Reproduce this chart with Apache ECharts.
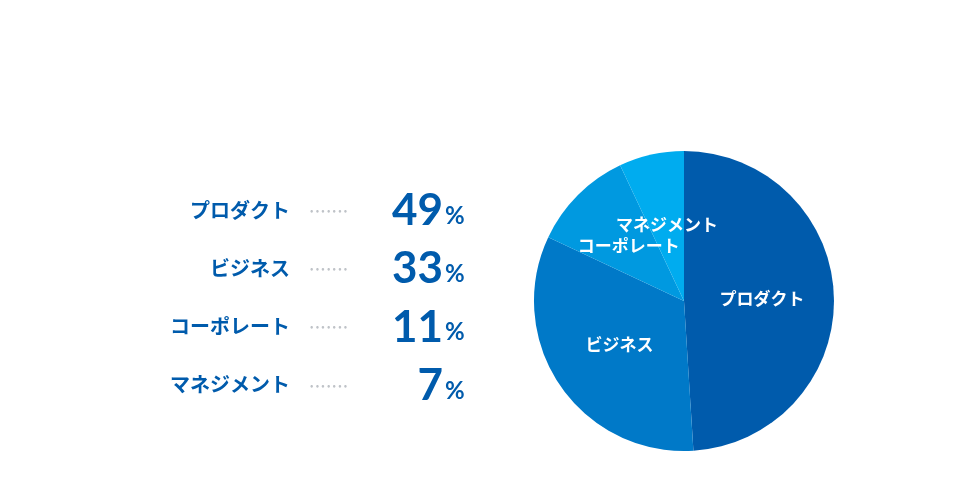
<!DOCTYPE html>
<html><head><meta charset="utf-8">
<script src="https://cdn.jsdelivr.net/npm/echarts@6/dist/echarts.min.js"></script>
<style>html,body{margin:0;background:#fff}#c{width:980px;height:500px}</style>
</head><body><div id="c"></div>
<script>
const categories = ['プロダクト','ビジネス','コーポレート','マネジメント'];
const values = [49, 33, 11, 7];
const colors = ['#005BAC','#0079C8','#0099E0','#00ACEF'];
const font = '"Noto Sans CJK JP", "Noto Sans", sans-serif';
const chart = echarts.init(document.getElementById('c'));
const graphic = [];
categories.forEach((c, i) => {
  const y = 210 + i * 58.3;
  graphic.push({type:'text', x:290, y:y, style:{text:c, fill:'#005BAC', font:'bold 20px ' + font, textAlign:'right', textVerticalAlign:'middle'}});
  graphic.push({type:'text', x:310, y:y, style:{text:'• • • • • • •', fill:'#BFC3C8', font:'10px ' + font, textAlign:'left', textVerticalAlign:'middle'}});
  graphic.push({type:'text', x:443, y:y + 1, style:{text:String(values[i]), fill:'#005BAC', font:'bold 44px "Lato", "Noto Sans", sans-serif', textAlign:'right', textVerticalAlign:'middle'}});
  graphic.push({type:'text', x:445, y:y + 6, style:{text:'%', fill:'#005BAC', font:'bold 24px "Lato", sans-serif', textAlign:'left', textVerticalAlign:'middle'}});
});
chart.setOption({
  animation:false,
  graphic: graphic,
  series:[{
    type:'pie', center:[684,301], radius:[0,150], startAngle:90, clockwise:true,
    data: categories.map((c,i)=>({name:c, value:values[i], itemStyle:{color:colors[i]}})),
    label:{show:true, position:'inside', color:'#fff', fontWeight:'bold', fontSize:17, fontFamily:font, formatter:'{b}'},
    labelLine:{show:false},
    itemStyle:{borderWidth:0},
    emphasis:{disabled:true}
  }]
});
</script></body></html>
